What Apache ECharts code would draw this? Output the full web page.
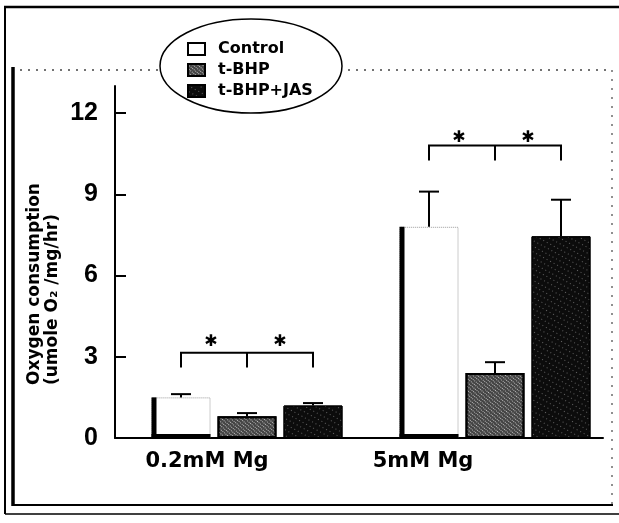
<!DOCTYPE html>
<html>
<head>
<meta charset="utf-8">
<script src="https://cdn.jsdelivr.net/npm/echarts@6/dist/echarts.min.js"></script>
<style>
  html, body { margin: 0; padding: 0; background: #fff; }
  #chart { width: 619px; height: 523px; }
</style>
</head>
<body>
<div id="chart"></div>
<script>
// x groups
var categories = ["0.2mM Mg", "5mM Mg"];
var seriesNames = ["Control", "t-BHP", "t-BHP+JAS"];
// mean oxygen consumption (umole O2/mg/hr)
var controlData = [1.5, 7.8];
var tbhpData = [0.8, 2.4];
var jasData = [1.2, 7.45];
// top of the error bars
var controlErr = [1.62, 9.1];
var tbhpErr = [0.92, 2.8];
var jasErr = [1.29, 8.8];
// significance brackets: line level, foot level, star level
var bracketTop = [3.15, 10.8];
var bracketFoot = [2.6, 10.25];
var starLevel = [3.55, 11.1];
var yTicks = [0, 3, 6, 9, 12];

var BAR_W = 59;
var BAR_GAP = 7;
var STEP = BAR_W + BAR_GAP;

var myChart = echarts.init(document.getElementById("chart"));

var means = [controlData, tbhpData, jasData];
var errs = [controlErr, tbhpErr, jasErr];
var errRows = [];
categories.forEach(function (c, g) {
  for (var s = 0; s < 3; s++) {
    errRows.push([g, means[s][g], errs[s][g], s]);
  }
});
var bracketRows = categories.map(function (c, g) {
  return [g, bracketTop[g], bracketFoot[g], starLevel[g]];
});

var black = "#000";
var option = {
  animation: false,
  backgroundColor: "#fff",
  grid: [
    // bars
    { left: 123, right: 0, top: 86, bottom: 85 },
    // visible axes
    { left: 115, right: 16, top: 86, bottom: 85 }
  ],
  legend: {
    orient: "vertical",
    left: 182,
    top: 36,
    itemWidth: 17,
    itemHeight: 12,
    itemGap: 5,
    icon: "rect",
    textStyle: {
      fontFamily: "DejaVu Sans",
      fontWeight: "bold",
      fontSize: 16,
      color: black,
      padding: [0, 0, 0, 8]
    },
    data: [
      { name: "Control", itemStyle: { color: "#fff", borderColor: black, borderWidth: 2, borderType: "solid" } },
      { name: "t-BHP" },
      { name: "t-BHP+JAS" }
    ],
    z: 10
  },
  xAxis: [
    {
      type: "category",
      gridIndex: 0,
      data: categories,
      show: false
    },
    {
      type: "category",
      gridIndex: 1,
      data: categories,
      axisLine: { lineStyle: { color: black, width: 2 } },
      axisTick: { show: false },
      axisLabel: {
        margin: 13,
        formatter: function (v, i) {
          return i === 0 ? "{a|" + v + "}" : "{b|" + v + "}";
        },
        rich: {
          a: { fontFamily: "DejaVu Sans", fontWeight: "bold", fontSize: 21, color: black, padding: [0, 60, 0, 0] },
          b: { fontFamily: "DejaVu Sans", fontWeight: "bold", fontSize: 21, color: black, padding: [0, 116, 0, 0] }
        }
      }
    }
  ],
  yAxis: [
    {
      type: "value",
      gridIndex: 0,
      min: 0,
      max: 13,
      show: false
    },
    {
      type: "value",
      gridIndex: 1,
      min: 0,
      max: 13,
      interval: 3,
      splitLine: { show: false },
      axisLine: { show: true, lineStyle: { color: black, width: 2 } },
      axisTick: {
        show: true,
        inside: true,
        length: 11,
        customValues: yTicks,
        lineStyle: { color: black, width: 2 }
      },
      axisLabel: {
        margin: 17,
        customValues: yTicks,
        fontFamily: "Liberation Sans",
        fontWeight: "bold",
        fontSize: 25,
        color: black
      }
    }
  ],
  graphic: [
    // scanned frame
    { type: "line", z: 1, shape: { x1: 4, y1: 7, x2: 619, y2: 7 }, style: { stroke: black, lineWidth: 2.5 } },
    { type: "line", z: 1, shape: { x1: 5, y1: 6, x2: 5, y2: 514 }, style: { stroke: black, lineWidth: 2 } },
    { type: "line", z: 1, shape: { x1: 5, y1: 514, x2: 619, y2: 514 }, style: { stroke: black, lineWidth: 1.5 } },
    { type: "line", z: 1, shape: { x1: 13, y1: 67, x2: 13, y2: 506 }, style: { stroke: black, lineWidth: 3.5 } },
    { type: "line", z: 1, shape: { x1: 12, y1: 505, x2: 613, y2: 505 }, style: { stroke: black, lineWidth: 2 } },
    { type: "line", z: 1, shape: { x1: 20, y1: 70, x2: 612, y2: 70 }, style: { stroke: "#444", lineWidth: 1.3, lineDash: [2, 6] } },
    { type: "line", z: 1, shape: { x1: 612, y1: 70, x2: 612, y2: 505 }, style: { stroke: "#555", lineWidth: 1.3, lineDash: [2, 7] } },
    // legend ellipse
    { type: "ellipse", z: 2, shape: { cx: 251, cy: 66, rx: 91, ry: 47 }, style: { fill: "#fff", stroke: black, lineWidth: 1.5 } },
    // y axis title
    {
      type: "text",
      z: 3,
      x: 44,
      y: 385,
      rotation: Math.PI / 2,
      style: {
        text: "Oxygen consumption\n(umole O\u2082 /mg/hr)",
        font: "bold 17px 'DejaVu Sans'",
        fill: black,
        align: "left",
        verticalAlign: "middle",
        lineHeight: 18
      }
    }
  ],
  series: [
    {
      name: "Control",
      type: "bar",
      xAxisIndex: 0,
      yAxisIndex: 0,
      barWidth: BAR_W,
      barGap: (BAR_GAP / BAR_W * 100) + "%",
      itemStyle: { color: "#fff", borderColor: "#999", borderWidth: 1, borderType: "dotted" },
      data: controlData
    },
    {
      name: "t-BHP",
      type: "bar",
      xAxisIndex: 0,
      yAxisIndex: 0,
      barWidth: BAR_W,
      barGap: (BAR_GAP / BAR_W * 100) + "%",
      itemStyle: {
        color: "#444",
        borderColor: black,
        borderWidth: 2,
        decal: { symbol: "rect", symbolSize: 1, color: "rgba(255,255,255,0.65)", dashArrayX: [1, 1], dashArrayY: [1, 2], rotation: 0.7 }
      },
      data: tbhpData
    },
    {
      name: "t-BHP+JAS",
      type: "bar",
      xAxisIndex: 0,
      yAxisIndex: 0,
      barWidth: BAR_W,
      barGap: (BAR_GAP / BAR_W * 100) + "%",
      itemStyle: {
        color: "#0c0c0c",
        borderColor: black,
        borderWidth: 1,
        decal: { symbol: "rect", symbolSize: 1, color: "rgba(255,255,255,0.35)", dashArrayX: [1, 3], dashArrayY: [1, 4], rotation: 0.5 }
      },
      data: jasData
    },
    {
      // error bars, plus the dark left/bottom edge of the control bar
      type: "custom",
      xAxisIndex: 0,
      yAxisIndex: 0,
      z: 5,
      silent: true,
      data: errRows,
      renderItem: function (params, api) {
        var c = api.coord([api.value(0), api.value(1)]);
        var t = api.coord([api.value(0), api.value(2)]);
        var zero = api.coord([api.value(0), 0]);
        var s = api.value(3);
        var x = c[0] + (s - 1) * STEP;
        var kids = [
          { type: "line", shape: { x1: x, y1: c[1], x2: x, y2: t[1] }, style: { stroke: black, lineWidth: 2 } },
          { type: "line", shape: { x1: x - 10, y1: t[1], x2: x + 10, y2: t[1] }, style: { stroke: black, lineWidth: 2 } }
        ];
        if (s === 0) {
          kids.push({ type: "rect", shape: { x: x - BAR_W / 2, y: c[1], width: 5, height: zero[1] - c[1] }, style: { fill: black } });
          kids.push({ type: "rect", shape: { x: x - BAR_W / 2, y: zero[1] - 4, width: BAR_W, height: 4 }, style: { fill: black } });
        }
        return { type: "group", children: kids };
      }
    },
    {
      // significance brackets
      type: "custom",
      xAxisIndex: 0,
      yAxisIndex: 0,
      z: 5,
      silent: true,
      data: bracketRows,
      renderItem: function (params, api) {
        var top = api.coord([api.value(0), api.value(1)]);
        var foot = api.coord([api.value(0), api.value(2)]);
        var star = api.coord([api.value(0), api.value(3)]);
        var x0 = top[0] - STEP, x1 = top[0], x2 = top[0] + STEP;
        var st = { stroke: black, lineWidth: 2, fill: null };
        var starStyle = function (x) {
          return { type: "text", x: x, y: star[1], style: { text: "\u2731", font: "bold 16px 'DejaVu Sans'", fill: black, align: "center", verticalAlign: "middle" } };
        };
        return {
          type: "group",
          children: [
            { type: "polyline", shape: { points: [[x0, foot[1]], [x0, top[1]], [x2, top[1]], [x2, foot[1]]] }, style: st },
            { type: "line", shape: { x1: x1, y1: top[1], x2: x1, y2: foot[1] }, style: st },
            starStyle((x0 + x1) / 2 - 3),
            starStyle((x1 + x2) / 2)
          ]
        };
      }
    }
  ]
};

myChart.setOption(option);
window.addEventListener("resize", function () {
  myChart.resize();
});
</script>
</body>
</html>
